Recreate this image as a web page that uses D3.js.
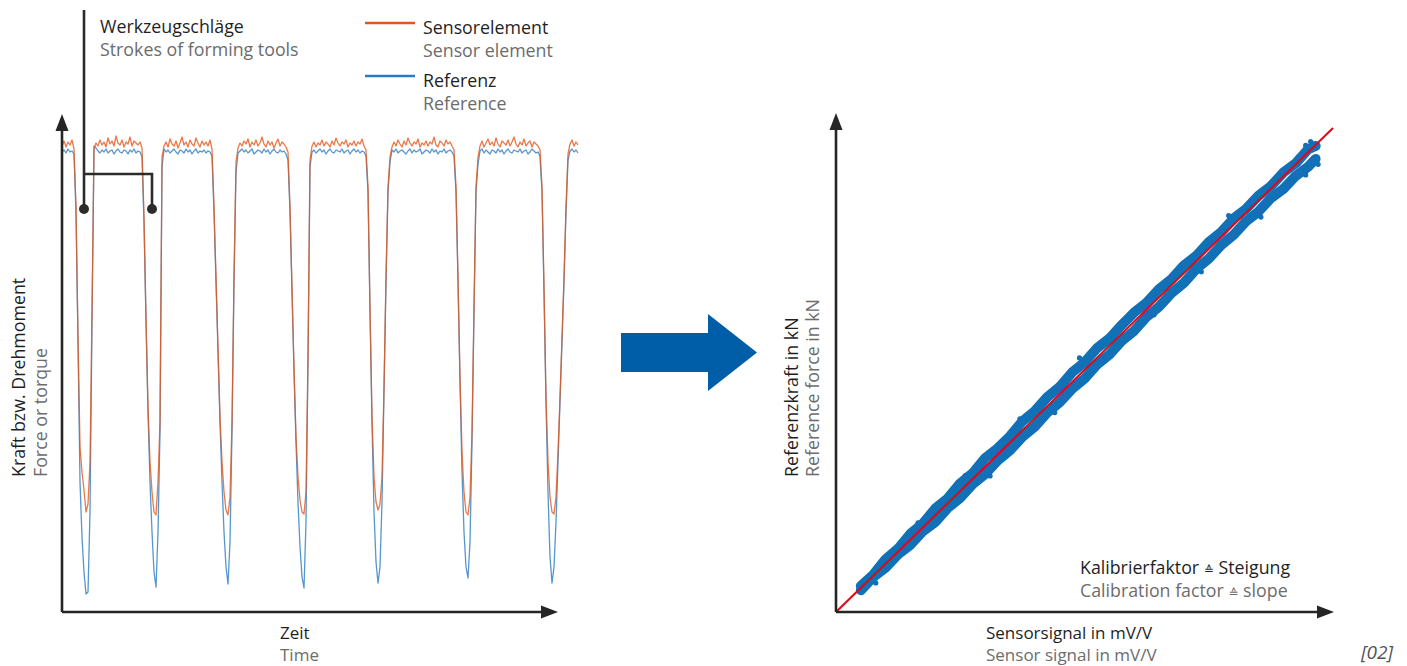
<!DOCTYPE html>
<html>
<head>
<meta charset="utf-8">
<script src="https://cdn.jsdelivr.net/npm/d3@7"></script>
<style>
  html, body { margin: 0; padding: 0; background: #fff; }
  svg { display: block; }
  text { font-family: "Open Sans", "Noto Sans", sans-serif; }
</style>
</head>
<body>
<svg id="chart" width="1407" height="666"></svg>
<script>
// ---------- Force signal over time (sample every 2 ms, arbitrary force units) ----------
const sensorElement = [
  466, 471, 465, 470, 467, 472, 463,
  405, 275, 165, 140, 122, 100, 108, 150, 300,
  463, 469, 466, 472, 467, 470, 465, 474, 468, 471, 466, 476, 469, 467, 472, 465, 470, 468, 475, 466, 471, 469, 467, 470, 464,
  395, 295, 205, 150, 120, 100, 97, 130, 190,
  455, 466, 470, 465, 473, 468, 466, 471, 464, 469, 475, 467, 470, 465, 472, 468, 466, 474, 469, 465, 471, 467, 470, 466, 472, 463,
  405, 335, 265, 195, 150, 120, 102, 97, 115, 190, 335,
  450, 464, 469, 466, 471, 468, 473, 465, 470, 467, 472, 466, 469, 475, 468, 465, 471, 467, 470, 464, 469, 473, 466, 470, 468, 465, 460,
  405, 325, 245, 175, 135, 112, 100, 98, 120, 255,
  452, 466, 470, 465, 469, 467, 472, 466, 470, 468, 465, 471, 467, 474, 469, 466, 470, 468, 472, 465, 469, 467, 471, 466, 470, 468, 473, 466, 462,
  425, 305, 195, 135, 110, 102, 108, 135, 225, 335, 425,
  455, 465, 470, 466, 472, 468, 465, 471, 467, 474, 469, 466, 470, 468, 473, 465, 469, 467, 471, 466, 470, 468, 475, 467, 465, 471, 469, 466, 472, 468, 470, 466, 462,
  425, 335, 235, 160, 120, 100, 97, 115, 180, 305, 425,
  455, 466, 471, 465, 469, 473, 467, 470, 466, 474, 468, 465, 471, 469, 467, 472, 466, 470, 475, 468, 465, 470, 467, 473, 466, 469, 471, 465, 470, 468, 466, 462,
  425, 325, 215, 150, 115, 100, 98, 115, 160, 215, 275, 335, 405,
  458, 468, 472, 466, 470, 467
];
const reference = [
  460, 462, 459, 463, 460, 461, 458,
  400, 270, 130, 75, 40, 18, 20, 100, 290,
  466, 464, 461, 459, 462, 460, 463, 459, 461, 462, 458, 461, 463, 460, 459, 462, 461, 458, 462, 460, 463, 459, 461, 460, 455,
  390, 290, 200, 130, 80, 40, 25, 80, 180,
  445, 463, 460, 462, 459, 461, 463, 460, 458, 462, 461, 459, 463, 460, 462, 458, 461, 463, 459, 461, 460, 462, 459, 461, 460, 456,
  400, 330, 260, 190, 130, 80, 45, 28, 70, 180, 330,
  440, 459, 461, 463, 460, 462, 459, 461, 463, 458, 460, 462, 461, 459, 463, 460, 462, 458, 461, 463, 460, 459, 462, 460, 461, 458, 452,
  400, 320, 240, 170, 110, 65, 35, 24, 90, 250,
  445, 460, 462, 459, 461, 463, 460, 462, 458, 461, 463, 460, 459, 462, 461, 460, 463, 459, 461, 462, 458, 461, 463, 460, 462, 459, 461, 460, 456,
  420, 300, 190, 100, 50, 29, 45, 110, 220, 330, 420,
  450, 462, 460, 463, 459, 461, 462, 460, 458, 461, 463, 459, 462, 460, 461, 463, 458, 460, 462, 461, 459, 463, 460, 462, 458, 461, 460, 463, 459, 461, 462, 460, 456,
  420, 330, 230, 140, 80, 45, 34, 70, 170, 300, 420,
  448, 461, 463, 459, 462, 460, 458, 462, 461, 459, 463, 460, 462, 458, 461, 463, 460, 459, 462, 461, 460, 463, 459, 461, 462, 458, 460, 463, 461, 459, 460, 456,
  420, 320, 210, 120, 55, 29, 45, 90, 150, 210, 270, 330, 400,
  452, 461, 463, 460, 462, 459
];
// sample indices of the two strokes pointed out by the bracket
const strokeMarks = [11, 45];

// ---------- Calibration: reference force vs. sensor signal ----------
const calibrationFactor = 50;            // kN per mV/V
const calibrationRange = [0, 2];         // mV/V
const branchSensor = [0.10, 0.15, 0.20, 0.25, 0.30, 0.35, 0.40, 0.45, 0.50, 0.55,
  0.60, 0.65, 0.70, 0.75, 0.80, 0.85, 0.90, 0.95, 1.00, 1.05,
  1.10, 1.15, 1.20, 1.25, 1.30, 1.35, 1.40, 1.45, 1.50, 1.55,
  1.60, 1.65, 1.70, 1.75, 1.80, 1.85, 1.90, 1.93];
const loadingForce = [5.4, 7.7, 10.9, 13.1, 16.2, 18.3, 21.4, 23.5, 26.6, 28.7,
  31.8, 33.8, 36.3, 39.4, 41.5, 44.4, 46.5, 49.5, 51.6, 54.5,
  56.5, 59.3, 61.9, 63.9, 66.7, 68.8, 71.6, 73.6, 76.4, 78.5,
  81.3, 83.3, 86.0, 88.0, 90.8, 92.7, 95.6, 96.3];
const unloadingForce = [4.5, 7.2, 9.2, 11.9, 13.9, 16.7, 18.6, 21.5, 23.6, 26.4,
  28.5, 31.3, 33.4, 36.2, 38.3, 41.2, 43.3, 46.1, 48.2, 51.1,
  53.2, 56.0, 58.1, 61.0, 63.1, 65.9, 68.0, 70.9, 73.0, 75.8,
  77.9, 80.7, 82.7, 85.5, 87.4, 90.1, 92.0, 93.6];
const scatterSensor = [0.12, 0.16, 0.33, 0.52, 0.62, 0.74, 0.88, 0.98, 1.08, 1.18,
  1.28, 1.37, 1.47, 1.58, 1.71, 1.86, 1.89, 1.91, 1.94, 1.89];
const scatterForce = [6.6, 6.0, 18.4, 28.2, 28.1, 39.9, 41.2, 52.5, 51.8, 60.8,
  61.4, 70.3, 70.3, 81.9, 81.6, 94.0, 96.4, 97.2, 92.5, 90.3];

// ---------- Texts ----------
const legendItems = [
  { de: "Sensorelement", en: "Sensor element", color: "#e2571c" },
  { de: "Referenz", en: "Reference", color: "#2a7cc2" }
];
const strokeLabel = ["Werkzeugschläge", "Strokes of forming tools"];
const timeLabel = ["Zeit", "Time"];
const forceLabel = ["Kraft bzw. Drehmoment", "Force or torque"];
const refLabel = ["Referenzkraft in kN", "Reference force in kN"];
const signalLabel = ["Sensorsignal in mV/V", "Sensor signal in mV/V"];
const slopeLabel = [["Kalibrierfaktor ", "≙", " Steigung"], ["Calibration factor ", "≙", " slope"]];
const figureTag = "[02]";

const DARK = "#1f1f1f", GREY = "#6c6c6c", AXIS = "#252525";
const FS = 17.8;

const svg = d3.select("#chart");

// ---------- Left panel: time signal ----------
const xTime = d3.scaleLinear().domain([0, sensorElement.length - 1]).range([62, 578]);
const yForce = d3.scaleLinear().domain([0, 470]).range([612, 142]);

const left = svg.append("g");
const line = d3.line().x((d, i) => xTime(i)).y(d => yForce(d));

left.append("path").datum(reference)
  .attr("d", line).attr("fill", "none")
  .attr("stroke", legendItems[1].color).attr("stroke-width", 1.3)
  .attr("stroke-opacity", 0.8).attr("stroke-linejoin", "round");
left.append("path").datum(sensorElement)
  .attr("d", line).attr("fill", "none")
  .attr("stroke", legendItems[0].color).attr("stroke-width", 1.3)
  .attr("stroke-opacity", 0.8).attr("stroke-linejoin", "round");

// axes with arrow heads
function axisArrows(g, x0, y0, xTip, yTip) {
  g.append("path")
    .attr("d", `M${x0},${y0}V${yTip + 14}M${x0},${y0}H${xTip - 14}`)
    .attr("stroke", AXIS).attr("stroke-width", 2.6).attr("fill", "none");
  g.append("path")
    .attr("d", `M${x0 - 6.5},${yTip + 17}L${x0},${yTip}L${x0 + 6.5},${yTip + 17}Z`)
    .attr("fill", AXIS);
  g.append("path")
    .attr("d", `M${xTip - 17},${y0 - 6.5}L${xTip},${y0}L${xTip - 17},${y0 + 6.5}Z`)
    .attr("fill", AXIS);
}
axisArrows(left, 62, yForce(0), 558, 114);

// bracket marking two strokes
const bx = strokeMarks.map(i => xTime(i));
left.append("path")
  .attr("d", `M${bx[0]},10V209M${bx[0]},174H${bx[1]}V209`)
  .attr("stroke", "#2b2b2b").attr("stroke-width", 2.6).attr("fill", "none");
left.selectAll("circle.mark").data(bx).join("circle")
  .attr("class", "mark").attr("cx", d => d).attr("cy", 209).attr("r", 5)
  .attr("fill", "#2b2b2b");

// German caption in dark, English translation below in grey
function twoLines(g, x, y, lines, size, gap) {
  g.append("text").attr("x", x).attr("y", y).attr("font-size", size)
    .attr("fill", DARK).text(lines[0]);
  g.append("text").attr("x", x).attr("y", y + gap).attr("font-size", size)
    .attr("fill", GREY).text(lines[1]);
}
twoLines(left, 100, 33, strokeLabel, FS, 23);

// legend
legendItems.forEach((it, k) => {
  const y = 23 + k * 53;
  left.append("line").attr("x1", 365).attr("x2", 415).attr("y1", y).attr("y2", y)
    .attr("stroke", it.color).attr("stroke-width", 2.5);
  twoLines(left, 423, y + 11, [it.de, it.en], FS, 22.5);
});

twoLines(left, 280, 639, timeLabel, 17, 21.5);

// rotated y label
const fl = left.append("text").attr("transform", "translate(25,477) rotate(-90)")
  .attr("font-size", FS);
fl.append("tspan").attr("x", 0).attr("fill", DARK).text(forceLabel[0]);
fl.append("tspan").attr("x", 0).attr("dy", 22).attr("fill", GREY).text(forceLabel[1]);

// ---------- Centre arrow ----------
svg.append("path")
  .attr("d", "M621,333H708V314L757,352.5L708,391V372H621Z")
  .attr("fill", "#005ea8");

// ---------- Right panel: calibration ----------
const xSig = d3.scaleLinear().domain(calibrationRange).range([836, 1333]);
const yRef = d3.scaleLinear().domain([0, 100]).range([612, 128]);
const right = svg.append("g");

const blue = "#1170b6";
const branchLine = d3.line().x(d => xSig(d[0])).y(d => yRef(d[1]));
[loadingForce, unloadingForce].forEach(force => {
  const pts = branchSensor.map((s, i) => [s, force[i]]);
  right.append("path").datum(pts)
    .attr("d", branchLine).attr("fill", "none")
    .attr("stroke", blue).attr("stroke-width", 10)
    .attr("stroke-linejoin", "round").attr("stroke-linecap", "round");
});
right.selectAll("circle.pt").data(scatterSensor.map((s, i) => [s, scatterForce[i]]))
  .join("circle").attr("class", "pt")
  .attr("cx", d => xSig(d[0])).attr("cy", d => yRef(d[1])).attr("r", 2.6)
  .attr("fill", blue);

// fitted calibration line
right.append("line")
  .attr("x1", xSig(calibrationRange[0])).attr("y1", yRef(calibrationFactor * calibrationRange[0]))
  .attr("x2", xSig(calibrationRange[1])).attr("y2", yRef(calibrationFactor * calibrationRange[1]))
  .attr("stroke", "#e30613").attr("stroke-width", 2);

axisArrows(right, 836, yRef(0), 1334, 113);

const rl = right.append("text").attr("transform", "translate(798,477) rotate(-90)")
  .attr("font-size", FS);
rl.append("tspan").attr("x", 0).attr("fill", DARK).text(refLabel[0]);
rl.append("tspan").attr("x", 0).attr("dy", 21).attr("fill", GREY).text(refLabel[1]);

twoLines(right, 986, 639, signalLabel, 17, 21.5);

// slope annotation with correspondence sign
slopeLabel.forEach((parts, k) => {
  const t = right.append("text").attr("x", 1080).attr("y", 574 + k * 22.5)
    .attr("font-size", FS).attr("fill", k === 0 ? DARK : GREY);
  t.append("tspan").text(parts[0]);
  t.append("tspan").attr("font-family", "DejaVu Sans").attr("font-size", 12).text(parts[1]);
  t.append("tspan").text(parts[2]);
});

svg.append("text").attr("x", 1393).attr("y", 659).attr("text-anchor", "end")
  .attr("font-size", 19).attr("font-style", "italic").attr("fill", "#555")
  .text(figureTag);
</script>
</body>
</html>
